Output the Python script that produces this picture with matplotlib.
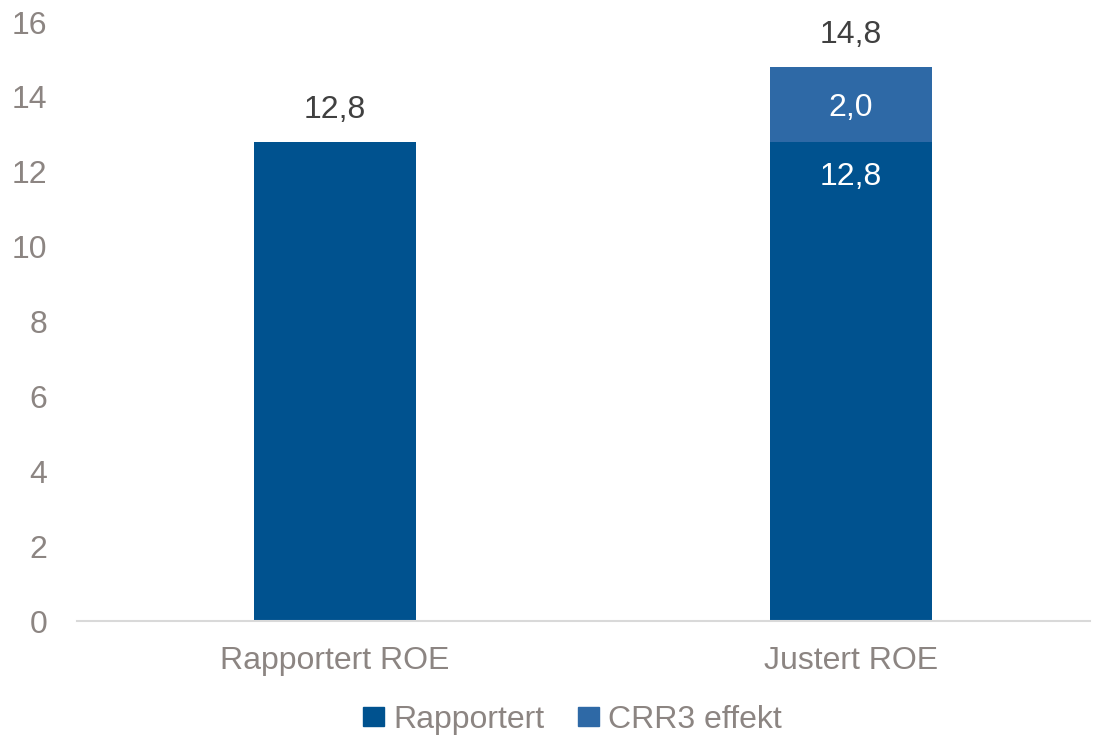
import matplotlib
matplotlib.use("Agg")
import matplotlib.pyplot as plt
from matplotlib.patches import Patch

plt.rcParams['font.family'] = ['Liberation Sans', 'DejaVu Sans']

kategorier = ["Rapportert ROE", "Justert ROE"]
rapportert = [12.8, 12.8]
crr3_effekt = [0.0, 2.0]
serie_navn = ["Rapportert", "CRR3 effekt"]

farge_mork = "#00528f"
farge_lys = "#2e69a6"
graa = "#8c8582"

fig = plt.figure(figsize=(10.95, 7.36), dpi=100)
ax = fig.add_axes([0.070, 0.156, 0.925, 0.814])

x = list(range(len(kategorier)))
ax.bar(x, rapportert, width=0.314, color=farge_mork, zorder=2)
ax.bar(x, crr3_effekt, width=0.314, bottom=rapportert, color=farge_lys, zorder=2)


def fmt(v):
    return f"{v:.1f}".replace(".", ",")


# dataetiketter
for i in x:
    tot = rapportert[i] + crr3_effekt[i]
    if crr3_effekt[i] > 0:
        ax.text(i, rapportert[i] - 0.95, fmt(rapportert[i]), ha="center", va="center",
                color="white", fontsize=23)
        ax.text(i, rapportert[i] + crr3_effekt[i] / 2 - 0.1, fmt(crr3_effekt[i]), ha="center",
                va="center", color="white", fontsize=23)
    ax.text(i, tot + 0.85, fmt(tot), ha="center", va="center", color="#404040", fontsize=23)

ax.set_xlim(-0.5, 1.463)
ax.set_ylim(0, 16)
ax.set_yticks(range(0, 17, 2))
ax.set_xticks(x)
ax.set_xticklabels(kategorier)
ax.tick_params(axis="both", length=0, labelsize=23, colors=graa)
ax.tick_params(axis="x", pad=18)
ax.tick_params(axis="y", pad=21)
for s in ["top", "right", "left"]:
    ax.spines[s].set_visible(False)
ax.spines["bottom"].set_color("#d9d9d9")
ax.spines["bottom"].set_linewidth(1.5)

handles = [Patch(color=farge_mork), Patch(color=farge_lys)]
leg = fig.legend(handles, serie_navn, loc="center", bbox_to_anchor=(0.523, 0.022),
                 ncol=2, frameon=False, fontsize=23, handlelength=0.65, handleheight=0.5,
                 handletextpad=0.3, columnspacing=1.05)
for t in leg.get_texts():
    t.set_color(graa)

fig.savefig("out.png", dpi=100)
